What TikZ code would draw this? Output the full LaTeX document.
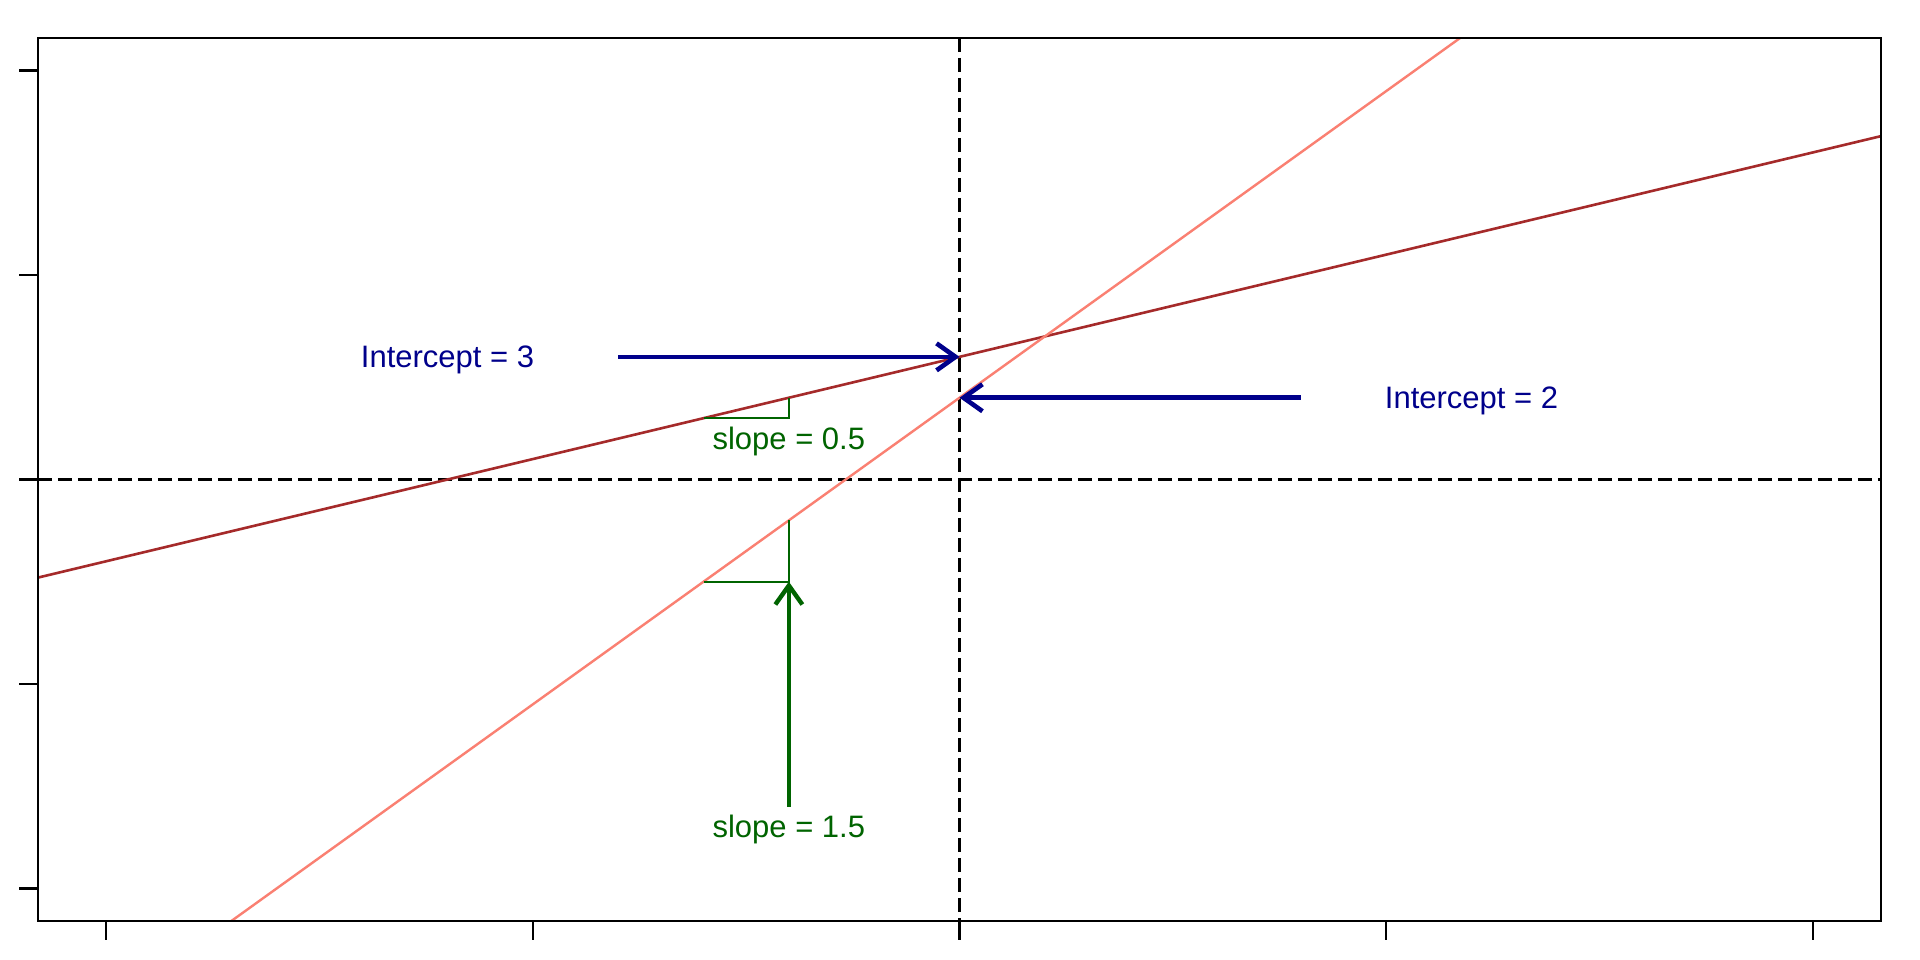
\documentclass[tikz,border=0pt]{standalone}
\usepackage{fontspec}
\setmainfont{Liberation Sans}
\usetikzlibrary{arrows.meta}
\definecolor{brownR}{HTML}{A52A2A}
\definecolor{salmonR}{HTML}{FA8072}
\definecolor{navyR}{HTML}{00008B}
\definecolor{greenR}{HTML}{006400}
\begin{document}
\begin{tikzpicture}[x=1pt,y=-1pt,
  axisline/.style={line width=2.4pt, black, line cap=rect},
  tickline/.style={line width=2.4pt, black},
  dashline/.style={line width=2.4pt, black, dash pattern=on 14pt off 6pt},
  lineA/.style={line width=2.6pt, brownR},
  lineB/.style={line width=2.4pt, salmonR},
  slopetri/.style={line width=2.2pt, greenR},
  barb/.style={-{Straight Barb[length=19pt,width=27pt]}},
  bluearrow/.style={barb, line width=4.6pt, navyR},
  greenarrow/.style={barb, line width=4.4pt, greenR},
  lbl/.style={inner sep=0pt, text height=22pt, text depth=0pt, anchor=center, font=\fontsize{31}{36}\selectfont},
  bluetext/.style={lbl, text=navyR},
  greentext/.style={lbl, text=greenR}]
\useasboundingbox (0,0) rectangle (1920,960);
\fill[white] (0,0) rectangle (1920,960);
\begin{scope}[shift={(959.5,479.5)}, x=85.33pt, y=40.88pt]
  \coordinate (bl) at (-10.8,-10.8);
  \coordinate (tr) at (10.8,10.8);
  \begin{scope}
    \clip (bl) rectangle (tr);
    \draw[dashline] (-10.8,0) -- (10.8,0);
    \draw[dashline] (0,10.8) -- (0,-10.8);
    \draw[lineA] (-10.8,-2.4) -- (10.8,8.4);
    \draw[lineB] (-10,-13) -- (10,17);
  \end{scope}
  \draw[axisline] (bl) rectangle (tr);
  \foreach \v in {-10,-5,0,5,10} {
    \draw[tickline] (\v,-10.8) -- ++(0pt,-19pt);
    \draw[tickline] (-10.8,\v) -- ++(-19pt,0pt);
  }
  % slope triangles
  \draw[slopetri] (-3,1.5) -- (-2,1.5) -- (-2,2);
  \draw[slopetri] (-3,-2.5) -- (-2,-2.5) -- (-2,-1);
  % labels
  \node[bluetext] (i3) at (-6,3) {Intercept = 3};
  \node[bluetext] (i2) at (6,2) {Intercept = 2};
  \node[greentext] (s05) at (-2,1) {slope = 0.5};
  \node[greentext] (s15) at (-2,-8.5) {slope = 1.5};
  % arrows
  \coordinate (a3s) at (-4,3);
  \coordinate (a3e) at (0,3);
  \coordinate (a2s) at (4,2);
  \coordinate (a2e) at (0,2);
  \coordinate (gs) at (-2,-8);
  \coordinate (ge) at (-2,-2.5);
  \draw[bluearrow] (a3s) -- (a3e);
  \draw[bluearrow] (a2s) -- (a2e);
  \draw[greenarrow] (gs) -- (ge);
\end{scope}
\end{tikzpicture}
\end{document}
